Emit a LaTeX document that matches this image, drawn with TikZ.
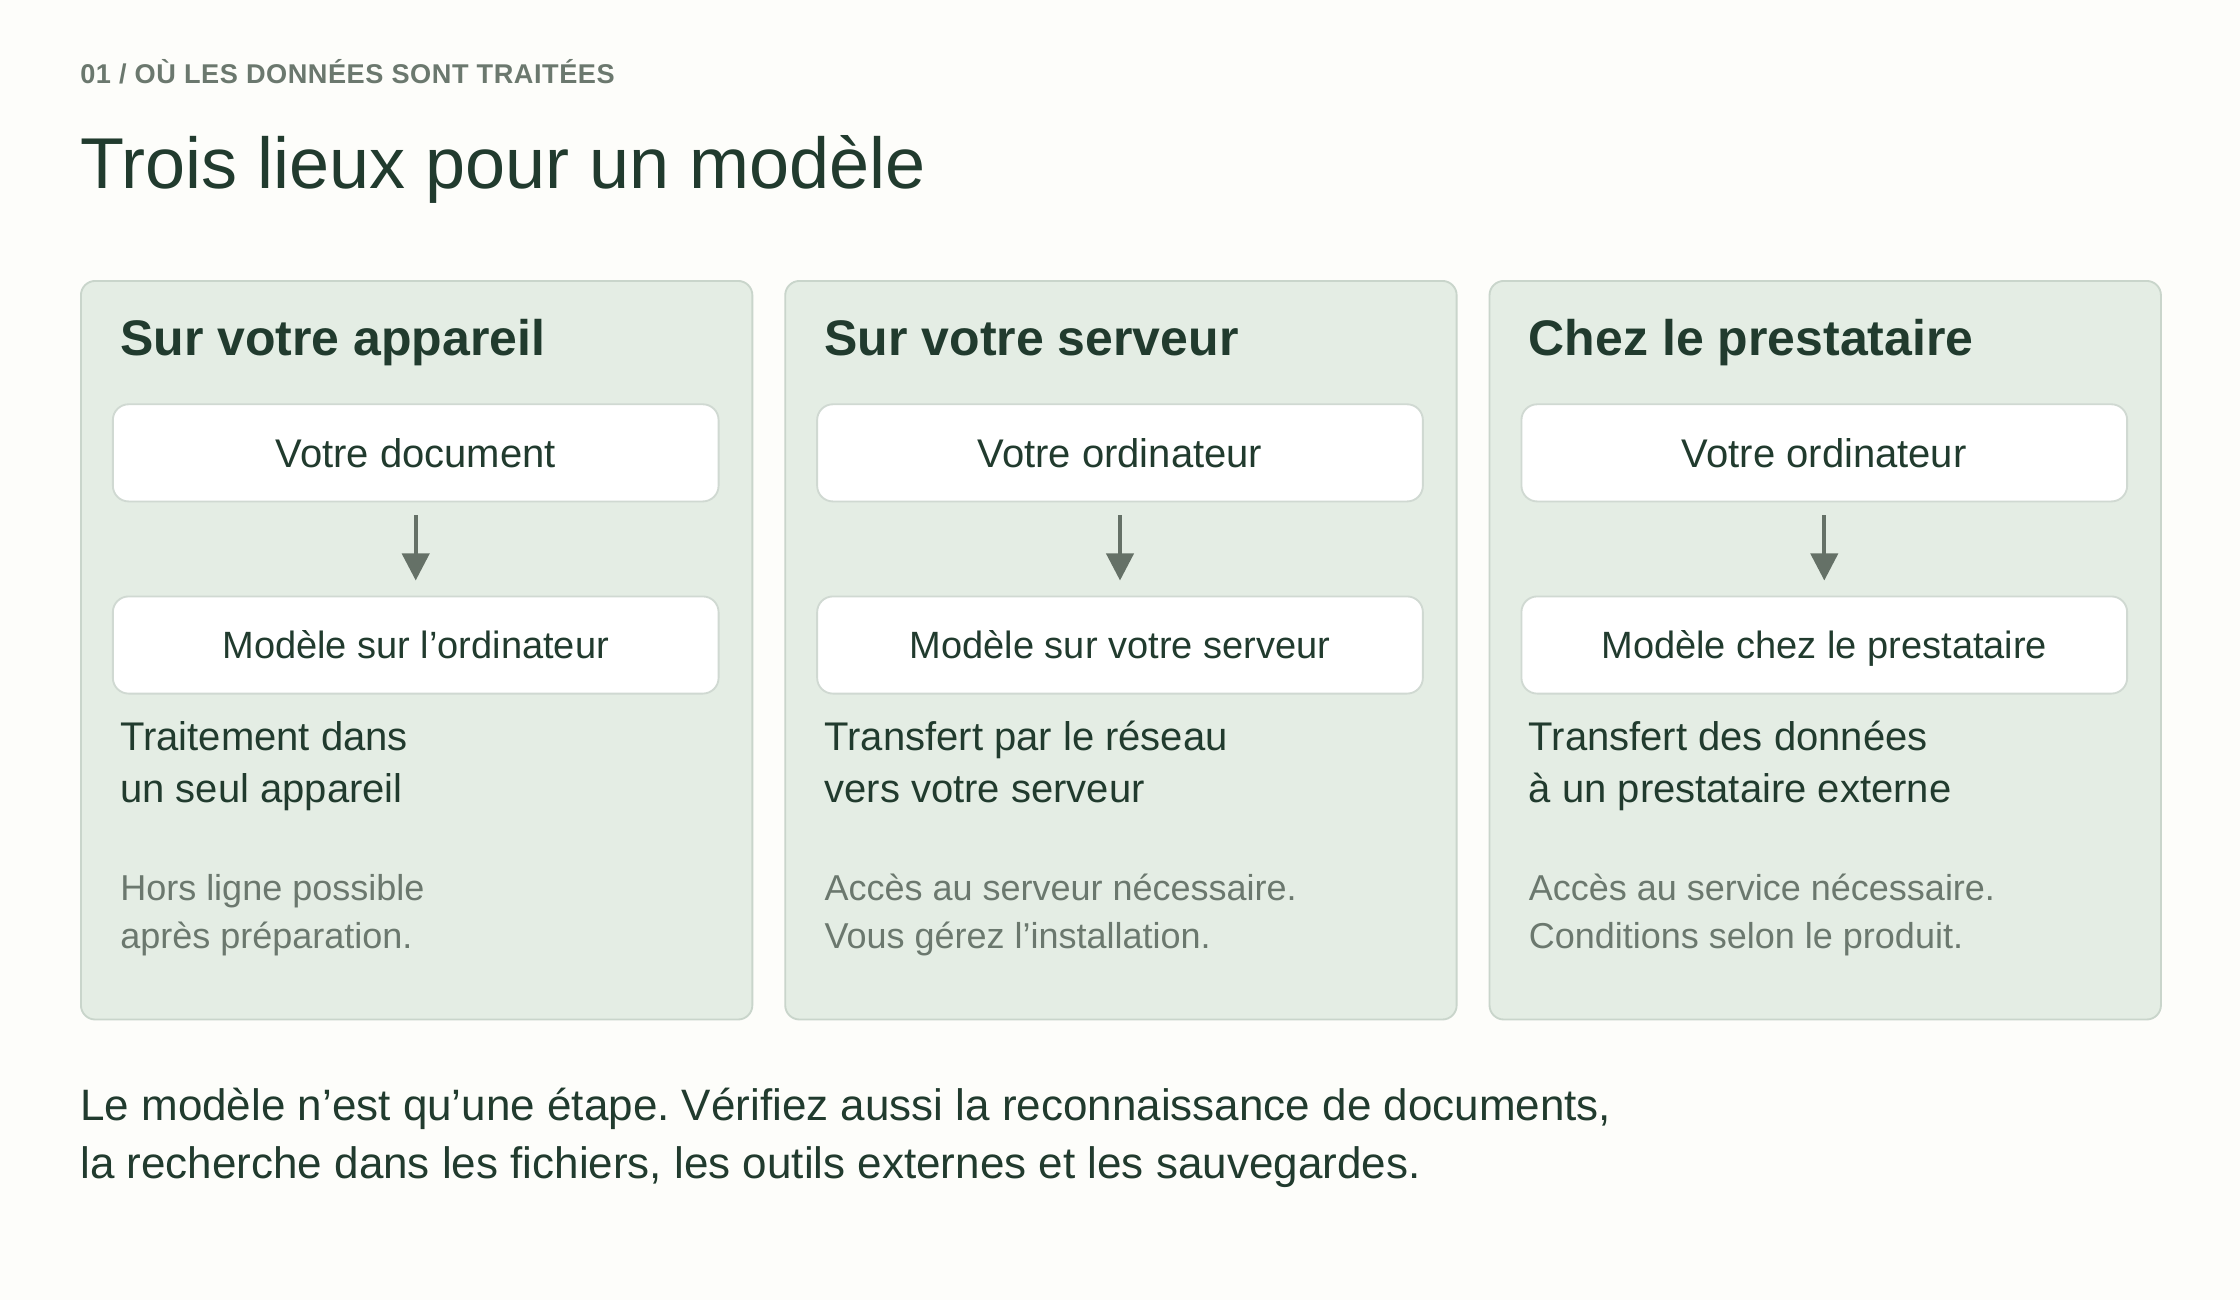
\documentclass[tikz,border=0pt]{standalone}
\usepackage{fontspec}
\setmainfont{Liberation Sans}
\usetikzlibrary{arrows.meta}
\definecolor{bg}{HTML}{FDFDFA}
\definecolor{cardfill}{HTML}{E4EDE4}
\definecolor{cardline}{HTML}{C9D5CB}
\definecolor{boxline}{HTML}{D0D9D2}
\definecolor{ink}{HTML}{213B2E}
\definecolor{muted}{HTML}{6B786E}
\definecolor{arrowc}{HTML}{657167}
\frenchspacing
\begin{document}
\begin{tikzpicture}[x=1pt,y=1pt,
  card/.style={draw=cardline, fill=cardfill, line width=1.3pt, rounded corners=10pt,
    minimum width=470pt, minimum height=517pt, anchor=north west, inner sep=0pt},
  flowbox/.style={draw=boxline, fill=white, line width=1.3pt, rounded corners=11pt,
    minimum width=424pt, minimum height=68pt, inner sep=0pt, text height=20pt, text depth=0pt,
    font=\fontsize{28}{34}\selectfont, text=ink},
  lowbox/.style={flowbox, text height=19pt, font=\fontsize{26.6}{32}\selectfont},
  txt/.style={anchor=base west, inner sep=0pt},
  head/.style={txt, text=ink, font=\fontsize{35}{40}\selectfont\bfseries},
  desc/.style={txt, text=ink, font=\fontsize{28}{34}\selectfont},
  note/.style={txt, text=muted, font=\fontsize{25.2}{30}\selectfont},
  foot/.style={txt, text=ink, font=\fontsize{30.8}{41}\selectfont},
  flow/.style={draw=arrowc, line width=2.8pt, -{Triangle[width=19pt,length=19pt]},
    shorten <=9pt, shorten >=10.5pt}
]
\fill[bg] (0,0) rectangle (1568,-910);
\useasboundingbox (0,0) rectangle (1568,-910);

% Title block
\node[txt, text=muted, font=\fontsize{19}{23}\selectfont\bfseries\addfontfeature{LetterSpace=2}] (kicker) at (56,-58.3) {01 / OÙ LES DONNÉES SONT TRAITÉES};
\node[txt, text=ink, font=\fontsize{50.4}{60}\selectfont] (title) at (56,-131.8) {Trois lieux pour un modèle};

% Cards
\node[card] (c1) at (56,-196) {};
\node[card] (c2) at (549,-196) {};
\node[card] (c3) at (1042,-196) {};

% Card 1
\node[head] (h1) at (84,-249) {Sur votre appareil};
\node[flowbox] (a1) at (291,-317) {Votre document};
\node[lowbox] (b1) at (291,-451.5) {Modèle sur l’ordinateur};
\draw[flow] (a1) -- (b1);
\node[desc] (d1a) at (84,-525) {Traitement dans};
\node[desc] (d1b) at (84,-562) {un seul appareil};
\node[note] (n1a) at (84,-630) {Hors ligne possible};
\node[note] (n1b) at (84,-664) {après préparation.};

% Card 2
\node[head] (h2) at (577,-249) {Sur votre serveur};
\node[flowbox] (a2) at (784,-317) {Votre ordinateur};
\node[lowbox] (b2) at (784,-451.5) {Modèle sur votre serveur};
\draw[flow] (a2) -- (b2);
\node[desc] (d2a) at (577,-525) {Transfert par le réseau};
\node[desc] (d2b) at (577,-562) {vers votre serveur};
\node[note] (n2a) at (577,-630) {Accès au serveur nécessaire.};
\node[note] (n2b) at (577,-664) {Vous gérez l’installation.};

% Card 3
\node[head] (h3) at (1070,-249) {Chez le prestataire};
\node[flowbox] (a3) at (1277,-317) {Votre ordinateur};
\node[lowbox] (b3) at (1277,-451.5) {Modèle chez le prestataire};
\draw[flow] (a3) -- (b3);
\node[desc] (d3a) at (1070,-525) {Transfert des données};
\node[desc] (d3b) at (1070,-562) {à un prestataire externe};
\node[note] (n3a) at (1070,-630) {Accès au service nécessaire.};
\node[note] (n3b) at (1070,-664) {Conditions selon le produit.};

% Footer
\node[foot] (f1) at (56,-784) {Le modèle n’est qu’une étape. Vérifiez aussi la reconnaissance de documents,};
\node[foot] (f2) at (56,-825) {la recherche dans les fichiers, les outils externes et les sauvegardes.};
\end{tikzpicture}
\end{document}
